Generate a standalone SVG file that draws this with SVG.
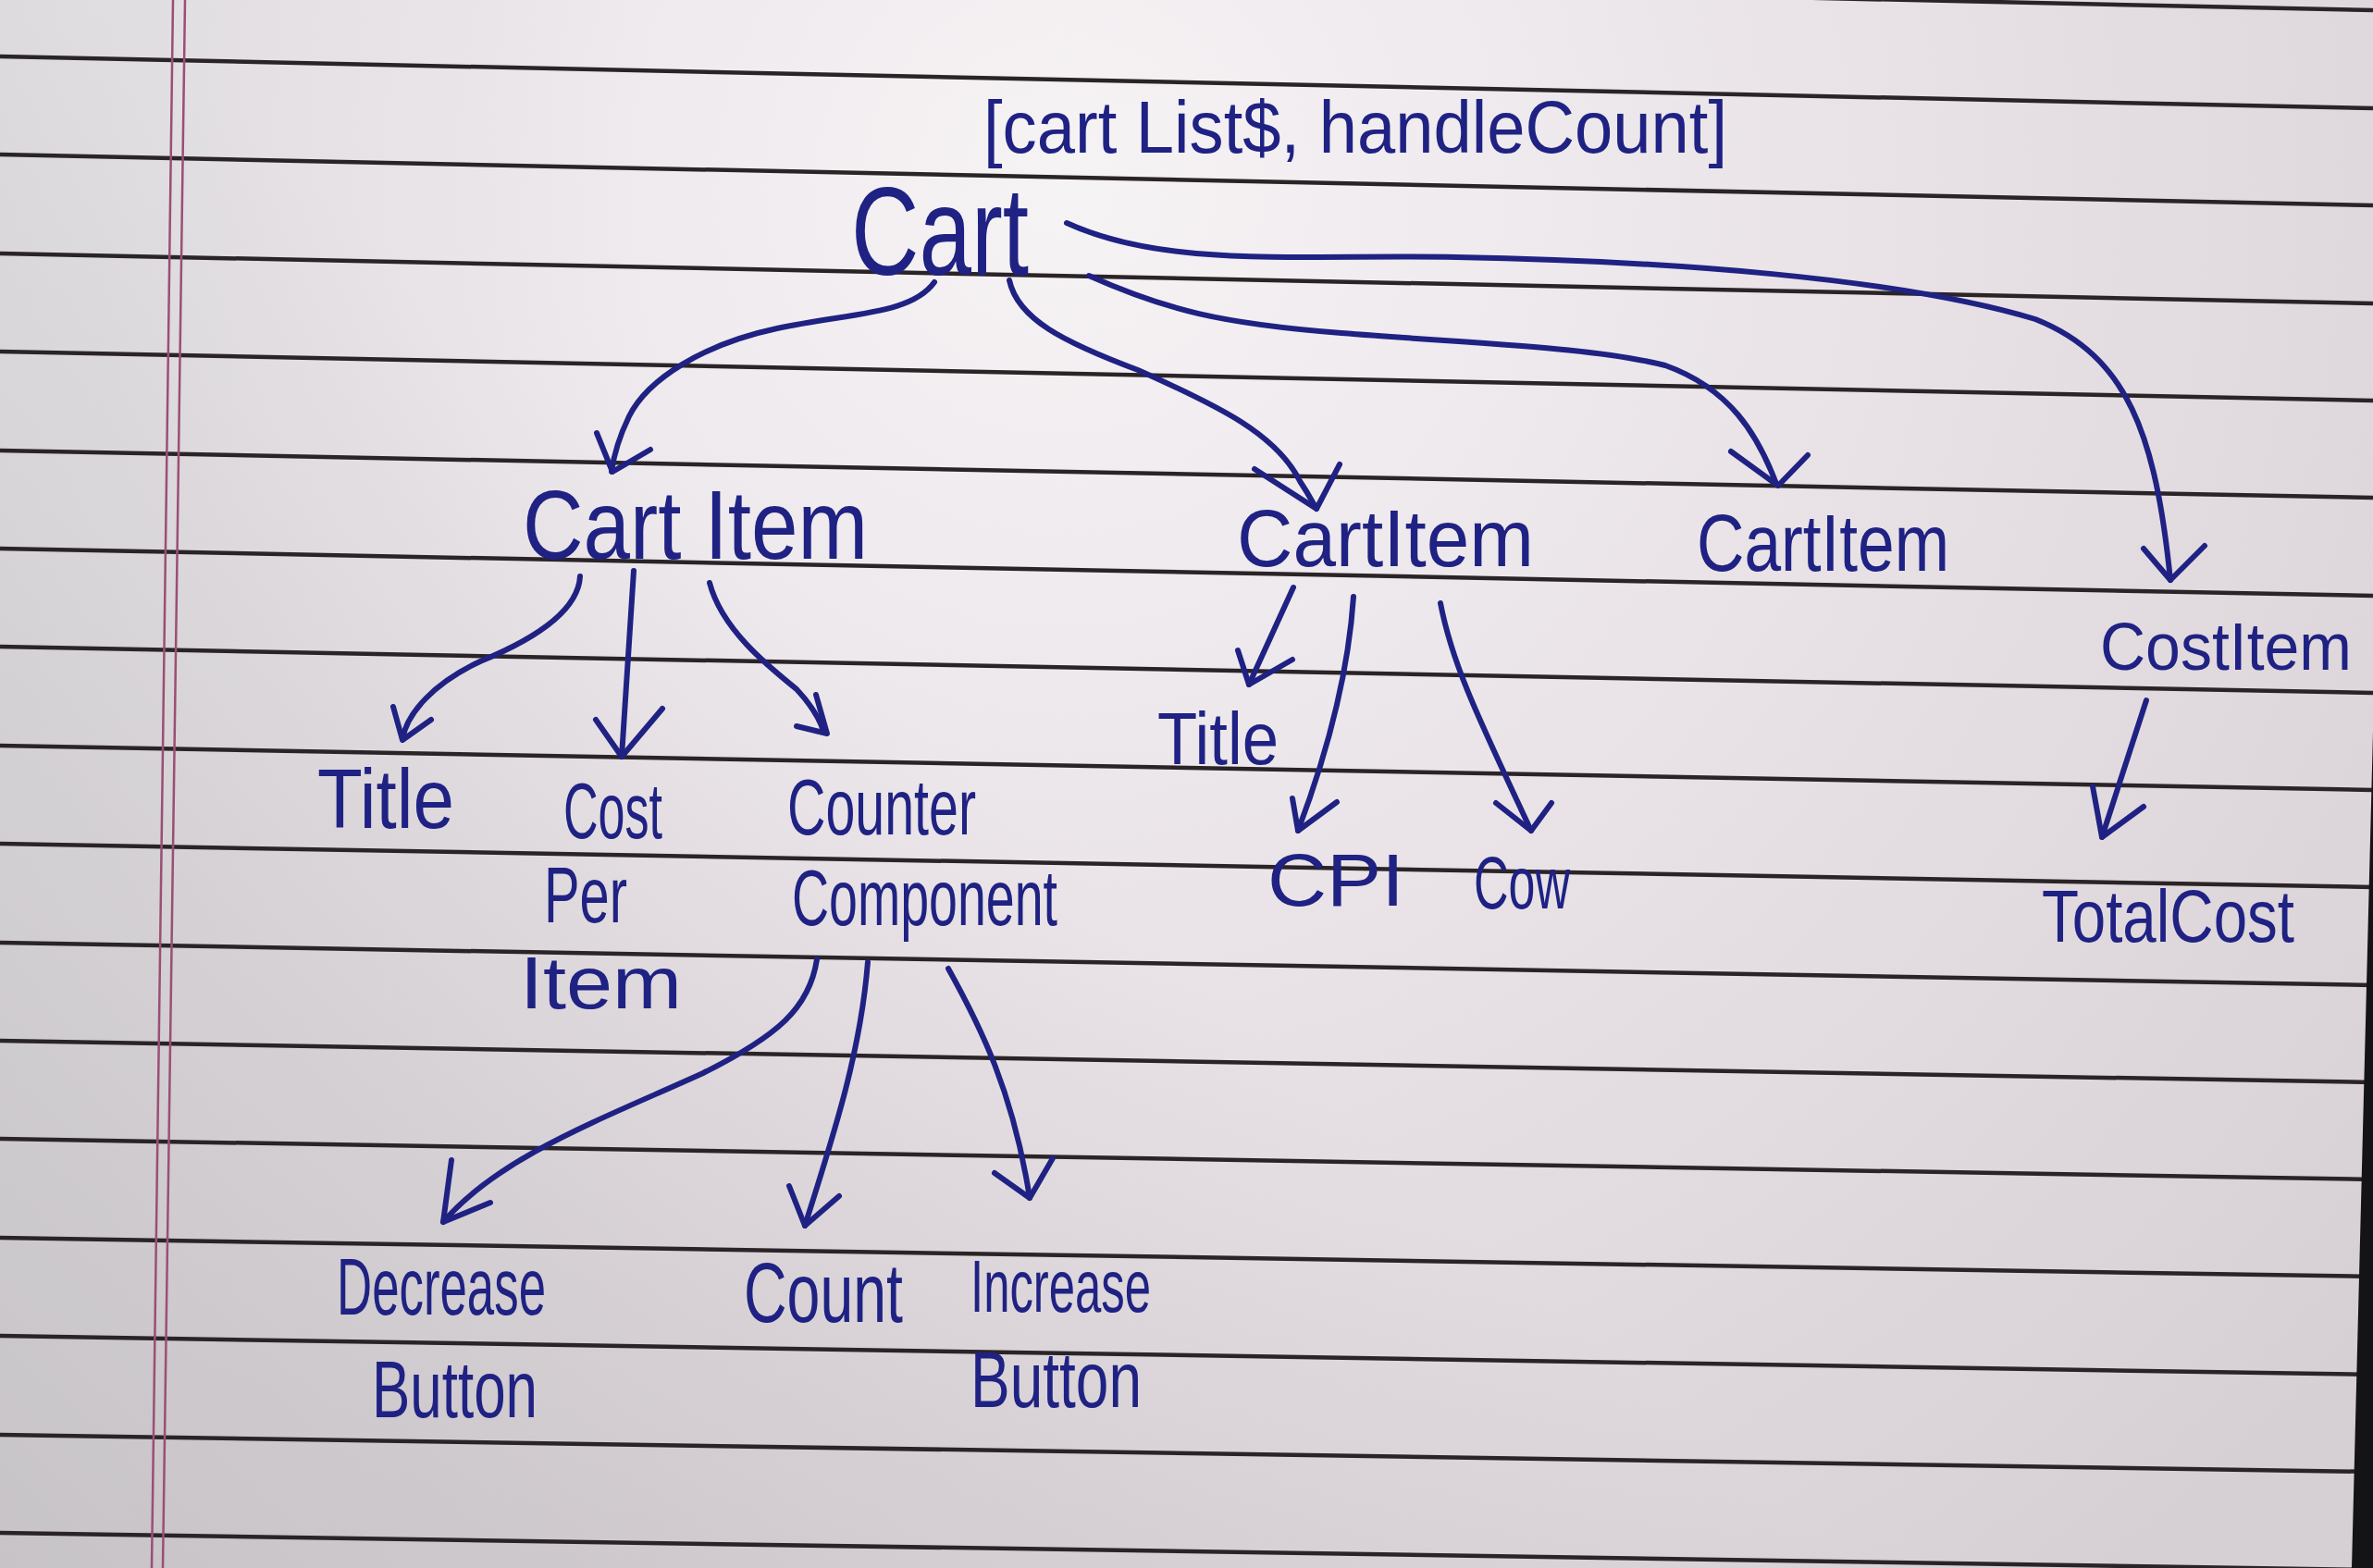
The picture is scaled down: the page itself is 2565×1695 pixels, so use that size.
<svg xmlns="http://www.w3.org/2000/svg" width="2565" height="1695" viewBox="0 0 2565 1695">
  <defs>
    <radialGradient id="light" cx="1150" cy="200" r="1900" gradientUnits="userSpaceOnUse">
      <stop offset="0" stop-color="#f6f3f5"/>
      <stop offset="0.45" stop-color="#e9e3e7"/>
      <stop offset="1" stop-color="#d6cfd4"/>
    </radialGradient>
    <linearGradient id="shade" x1="0" y1="1695" x2="900" y2="700" gradientUnits="userSpaceOnUse">
      <stop offset="0" stop-color="#b8b4b8" stop-opacity="0.55"/>
      <stop offset="1" stop-color="#b8b4b8" stop-opacity="0"/>
    </linearGradient>
    <linearGradient id="topleft" x1="0" y1="0" x2="700" y2="0" gradientUnits="userSpaceOnUse">
      <stop offset="0" stop-color="#dcdcdf" stop-opacity="0.6"/>
      <stop offset="1" stop-color="#dcdcdf" stop-opacity="0"/>
    </linearGradient>
  </defs>
  <style>
    .rule { stroke: #2a2427; stroke-width: 4.5; fill: none; }
    .margin { stroke: #9a4f74; stroke-width: 2.5; fill: none; }
    .ink { fill: #1f2283; font-family: "Liberation Sans", "DejaVu Sans", sans-serif; }
    .edge { stroke: #1f2283; stroke-width: 6; fill: none; stroke-linecap: round; stroke-linejoin: round; }
  </style>

  <!-- paper -->
  <rect x="0" y="0" width="2565" height="1695" fill="url(#light)"/>
  <rect x="0" y="0" width="2565" height="1695" fill="url(#topleft)"/>
  <rect x="0" y="0" width="2565" height="1695" fill="url(#shade)"/>

  <g id="rules">
    <line class="rule" x1="0" y1="-45" x2="2565" y2="11"/>
    <line class="rule" x1="0" y1="61" x2="2565" y2="117"/>
    <line class="rule" x1="0" y1="167" x2="2565" y2="222"/>
    <line class="rule" x1="0" y1="274" x2="2565" y2="328"/>
    <line class="rule" x1="0" y1="380" x2="2565" y2="433"/>
    <line class="rule" x1="0" y1="487" x2="2565" y2="538"/>
    <line class="rule" x1="0" y1="593" x2="2565" y2="644"/>
    <line class="rule" x1="0" y1="699" x2="2565" y2="749"/>
    <line class="rule" x1="0" y1="806" x2="2565" y2="854"/>
    <line class="rule" x1="0" y1="912" x2="2565" y2="959"/>
    <line class="rule" x1="0" y1="1019" x2="2565" y2="1065"/>
    <line class="rule" x1="0" y1="1125" x2="2565" y2="1170"/>
    <line class="rule" x1="0" y1="1231" x2="2565" y2="1275"/>
    <line class="rule" x1="0" y1="1338" x2="2565" y2="1380"/>
    <line class="rule" x1="0" y1="1444" x2="2565" y2="1486"/>
    <line class="rule" x1="0" y1="1551" x2="2565" y2="1591"/>
    <line class="rule" x1="0" y1="1657" x2="2565" y2="1697"/>
    <line class="margin" x1="187" y1="0" x2="164" y2="1695"/>
    <line class="margin" x1="200" y1="0" x2="176" y2="1695"/>
  </g>
  <polygon points="2565,790 2542,1695 2565,1695" fill="#141416"/>

  <g id="connectors">
    <path class="edge" d="M1010,305 C985,340 920,338 840,355 C760,372 700,410 680,450 C668,475 663,495 661,510"/>
    <path class="edge" d="M645,468 L662,510 L703,486"/>
    <path class="edge" d="M1091,303 C1100,345 1150,370 1230,400 C1320,440 1380,470 1405,520 C1415,535 1420,545 1423,550"/>
    <path class="edge" d="M1356,507 L1423,550 L1448,502"/>
    <path class="edge" d="M1177,298 C1260,335 1320,350 1450,360 C1600,372 1720,375 1800,395 C1870,420 1900,470 1920,523"/>
    <path class="edge" d="M1871,488 L1922,525 L1954,492"/>
    <path class="edge" d="M1153,241 C1260,290 1400,275 1574,278 C1800,282 2050,300 2200,345 C2300,385 2330,470 2346,627"/>
    <path class="edge" d="M2317,593 L2346,627 L2383,590"/>
    <path class="edge" d="M627,623 C625,660 580,690 519,715 C470,738 440,770 435,799"/>
    <path class="edge" d="M425,764 L435,800 L466,778"/>
    <path class="edge" d="M685,617 L672,818"/>
    <path class="edge" d="M644,778 L672,818 L716,766"/>
    <path class="edge" d="M767,630 C780,680 830,720 861,745 C875,760 885,775 890,790"/>
    <path class="edge" d="M882,751 L894,793 L861,785"/>
    <path class="edge" d="M1398,635 L1350,740"/>
    <path class="edge" d="M1338,703 L1350,740 L1397,713"/>
    <path class="edge" d="M1463,645 C1458,720 1440,800 1403,898"/>
    <path class="edge" d="M1397,863 L1403,898 L1445,867"/>
    <path class="edge" d="M1557,652 C1570,720 1600,780 1655,898"/>
    <path class="edge" d="M1617,868 L1655,898 L1677,868"/>
    <path class="edge" d="M2320,757 L2272,905"/>
    <path class="edge" d="M2262,850 L2272,905 L2317,872"/>
    <path class="edge" d="M883,1037 C875,1090 840,1120 760,1160 C650,1210 540,1250 479,1321"/>
    <path class="edge" d="M488,1254 L479,1321 L530,1300"/>
    <path class="edge" d="M938,1040 C930,1140 900,1230 870,1325"/>
    <path class="edge" d="M853,1282 L870,1325 L907,1293"/>
    <path class="edge" d="M1025,1047 C1060,1110 1095,1180 1113,1295"/>
    <path class="edge" d="M1075,1268 L1113,1295 L1138,1252"/>
  </g>

  <g id="state-note">
    <text class="ink" x="1063" y="165" font-size="80" textLength="804" lengthAdjust="spacingAndGlyphs">[cart List$, handleCount]</text>
  </g>
  <g id="cart">
    <text class="ink" x="920" y="297" font-size="135" textLength="192" lengthAdjust="spacingAndGlyphs">Cart</text>
  </g>
  <g id="cart-item-1">
    <text class="ink" x="565" y="604" font-size="105" textLength="373" lengthAdjust="spacingAndGlyphs">Cart Item</text>
  </g>
  <g id="cart-item-2">
    <text class="ink" x="1337" y="612" font-size="88" textLength="321" lengthAdjust="spacingAndGlyphs">CartItem</text>
  </g>
  <g id="cart-item-3">
    <text class="ink" x="1834" y="617" font-size="88" textLength="273" lengthAdjust="spacingAndGlyphs">CartItem</text>
  </g>
  <g id="cost-item">
    <text class="ink" x="2270" y="724" font-size="72" textLength="272" lengthAdjust="spacingAndGlyphs">CostItem</text>
  </g>
  <g id="title-1">
    <text class="ink" x="343" y="895" font-size="90" textLength="148" lengthAdjust="spacingAndGlyphs">Title</text>
  </g>
  <g id="cost-per-item">
    <text class="ink" x="609" y="906" font-size="85" textLength="107" lengthAdjust="spacingAndGlyphs">Cost</text>
    <text class="ink" x="588" y="997" font-size="85" textLength="90" lengthAdjust="spacingAndGlyphs">Per</text>
    <text class="ink" x="562" y="1090" font-size="80" textLength="175" lengthAdjust="spacingAndGlyphs">Item</text>
  </g>
  <g id="counter-component">
    <text class="ink" x="851" y="902" font-size="85" textLength="204" lengthAdjust="spacingAndGlyphs">Counter</text>
    <text class="ink" x="856" y="1000" font-size="85" textLength="287" lengthAdjust="spacingAndGlyphs">Component</text>
  </g>
  <g id="title-2">
    <text class="ink" x="1251" y="826" font-size="80" textLength="131" lengthAdjust="spacingAndGlyphs">Title</text>
  </g>
  <g id="cpi">
    <text class="ink" x="1370" y="979" font-size="80" textLength="148" lengthAdjust="spacingAndGlyphs">CPI</text>
  </g>
  <g id="cow">
    <text class="ink" x="1593" y="982" font-size="80" textLength="104" lengthAdjust="spacingAndGlyphs">Cow</text>
  </g>
  <g id="total-cost">
    <text class="ink" x="2207" y="1018" font-size="80" textLength="273" lengthAdjust="spacingAndGlyphs">TotalCost</text>
  </g>
  <g id="decrease-button">
    <text class="ink" x="364" y="1421" font-size="88" textLength="226" lengthAdjust="spacingAndGlyphs">Decrease</text>
    <text class="ink" x="402" y="1532" font-size="88" textLength="179" lengthAdjust="spacingAndGlyphs">Button</text>
  </g>
  <g id="count">
    <text class="ink" x="804" y="1429" font-size="90" textLength="172" lengthAdjust="spacingAndGlyphs">Count</text>
  </g>
  <g id="increase-button">
    <text class="ink" x="1049" y="1418" font-size="80" textLength="195" lengthAdjust="spacingAndGlyphs">Increase</text>
    <text class="ink" x="1049" y="1521" font-size="85" textLength="185" lengthAdjust="spacingAndGlyphs">Button</text>
  </g>
</svg>
